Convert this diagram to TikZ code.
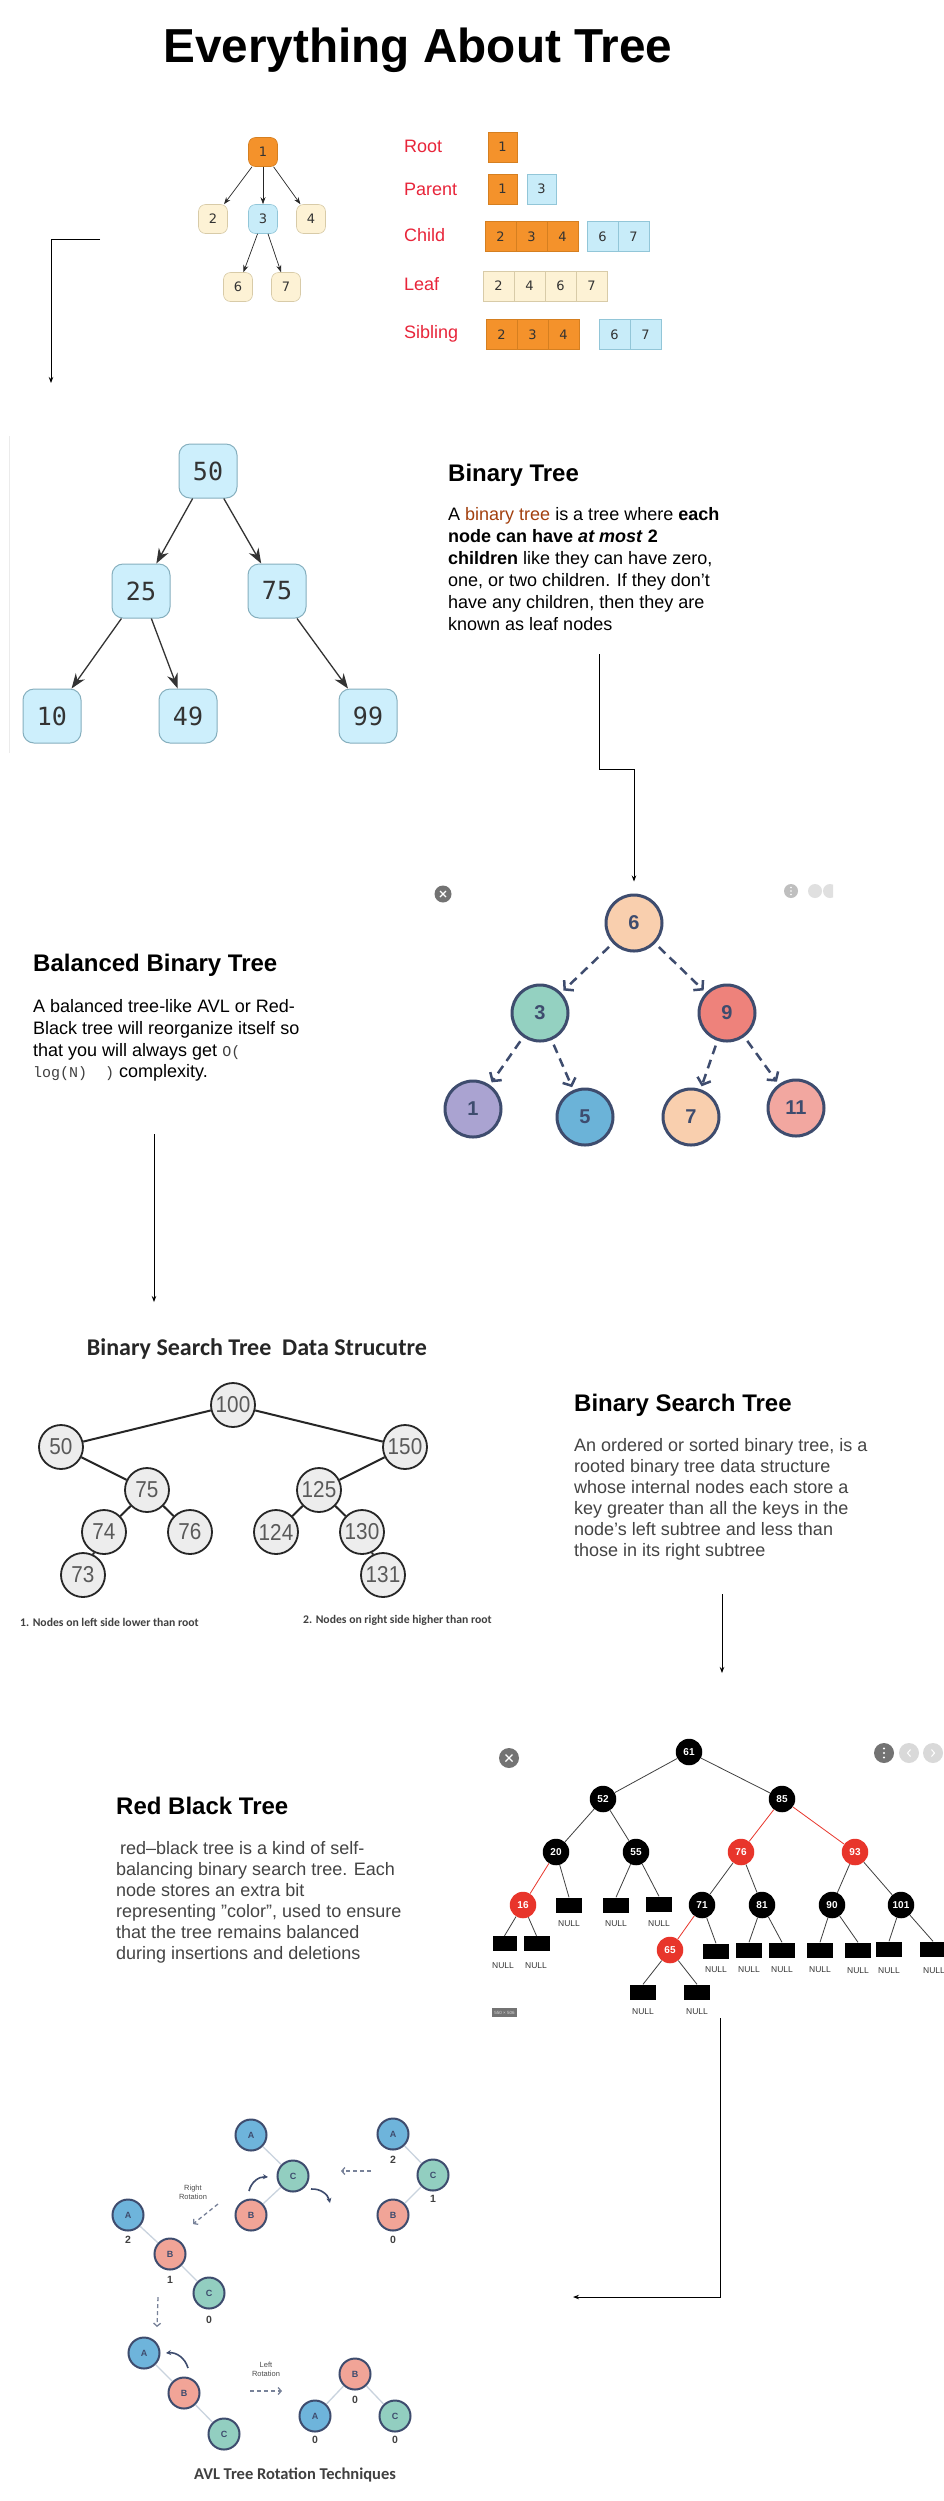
\documentclass[tikz,border=0pt]{standalone}
\usepackage{fontspec}
\setmainfont{Liberation Sans}
\newfontfamily\monofont{DejaVu Sans Mono}
\newfontfamily\dvsans{DejaVu Sans}
\newfontfamily\carlito{Carlito}
\newfontfamily\narrowsans[FakeStretch=0.9]{Liberation Sans}
\newfontfamily\codefont{Liberation Mono}
\usetikzlibrary{arrows.meta,shapes.geometric}
\newcommand{\setfs}[2]{\fontsize{#1}{#2}\selectfont}
\definecolor{orangeF}{HTML}{F4922B}
\definecolor{orangeD}{HTML}{D57F20}
\definecolor{lblueF}{HTML}{C8ECF9}
\definecolor{lblueD}{HTML}{92C6D8}
\definecolor{creamF}{HTML}{FDF2D5}
\definecolor{creamD}{HTML}{D8CBA8}
\definecolor{redL}{HTML}{E8253A}
\definecolor{brownL}{HTML}{A3410F}
\definecolor{btF}{HTML}{CDEFFC}
\definecolor{btD}{HTML}{86AFBE}
\definecolor{navy}{HTML}{3E4C6E}
\definecolor{peachF}{HTML}{F9CFAE}
\definecolor{tealF}{HTML}{94D1C1}
\definecolor{salmonF}{HTML}{EE827B}
\definecolor{lavF}{HTML}{AAA3D1}
\definecolor{blueF}{HTML}{6BB3D8}
\definecolor{pinkF}{HTML}{F2A7A0}
\definecolor{bstF}{HTML}{EDEDED}
\definecolor{rbRed}{HTML}{E8352B}
\definecolor{avlA}{HTML}{6EB4DB}
\definecolor{avlB}{HTML}{F1A497}
\definecolor{avlC}{HTML}{92CEC0}
\definecolor{avEdge}{HTML}{C9D3DE}
\definecolor{txtGray}{HTML}{444444}
\begin{document}
\begin{tikzpicture}[x=1pt,y=-1pt,
  conn/.style={draw=black, line width=0.9pt, -{Stealth[length=6pt,width=4.5pt]}},
  tn/.style={rounded corners=7pt, minimum width=29pt, minimum height=29pt, inner sep=0pt, line width=0.6pt, font=\dvsans\setfs{13}{15}, text=black!80},
  tna/.style={draw=black!85, line width=0.7pt, -{Stealth[length=7pt,width=5pt]}},
  cell/.style={minimum width=31pt, minimum height=30pt, inner sep=0pt, line width=0.6pt, font=\dvsans\setfs{13}{15}, text=black!80},
  ocell/.style={cell, fill=orangeF, draw=orangeD},
  bcell/.style={cell, fill=lblueF, draw=lblueD},
  ccell/.style={cell, fill=creamF, draw=creamD},
  lbl/.style={text=redL, font=\setfs{18}{20}, anchor=base west, inner sep=0pt},
  head/.style={font=\bfseries\setfs{24}{28}, anchor=base west, inner sep=0pt},
  body/.style={anchor=north west, align=left, inner sep=0pt, font=\setfs{18}{21.9}},
  bt/.style={rounded corners=11pt, minimum width=58pt, minimum height=54pt, fill=btF, draw=btD, line width=1pt, font=\monofont\setfs{25}{28}, text=black!80, inner sep=0pt},
  bta/.style={draw=black!80, line width=1.3pt, -{Stealth[length=15pt,width=11pt]}},
  bb/.style={circle, minimum size=56pt, inner sep=0pt, draw=navy, line width=3pt, font=\bfseries\setfs{20}{22}, text=navy},
  bba/.style={draw=navy, line width=2.5pt, dash pattern=on 9pt off 6pt, -{Straight Barb[length=6pt,width=14pt]}, shorten <=5pt, shorten >=3pt},
  bs/.style={circle, minimum size=44pt, inner sep=0pt, fill=bstF, draw=black!85, line width=1.8pt, font=\narrowsans\setfs{23}{25}, text=black!65},
  bse/.style={draw=black!85, line width=2pt},
  rb/.style={circle, minimum size=26.5pt, inner sep=0pt, fill=black, font=\bfseries\setfs{10}{12}, text=white},
  rbr/.style={rb, fill=rbRed},
  nul/.style={fill=black, minimum width=26pt, minimum height=15pt, inner sep=0pt},
  nl/.style={font=\setfs{8.5}{9}, text=black!80, inner sep=0pt},
  rbe/.style={draw=black!75, line width=0.8pt},
  rbre/.style={draw=rbRed, line width=0.8pt},
  av/.style={circle, minimum size=31pt, inner sep=0pt, draw=navy, line width=2pt, font=\bfseries\setfs{9}{10}, text=navy},
  avA/.style={av, fill=avlA}, avB/.style={av, fill=avlB}, avC/.style={av, fill=avlC},
  ave/.style={draw=avEdge, line width=1.3pt},
  avn/.style={font=\bfseries\setfs{10.5}{11}, text=black!75, inner sep=0pt},
  avd/.style={draw=navy!70, line width=1.3pt, dash pattern=on 4pt off 3pt, -{Straight Barb[length=3pt,width=7pt]}},
  avc/.style={draw=navy, line width=1.6pt, -{Stealth[length=5pt,width=5pt]}},
  avt/.style={font=\setfs{7.5}{9}, text=black!70, align=center, inner sep=0pt}
]
\useasboundingbox (0,0) rectangle (944,2501);
\fill[white] (0,0) rectangle (944,2501);
\clip (0,0) rectangle (944,2501);

% ---------- Title ----------
\node[font=\bfseries\setfs{47.7}{55}, anchor=base] (title) at (418,62) {Everything About Tree};

% ---------- Section 1: general tree ----------
\node[tn, fill=orangeF, draw=orangeD] (t1) at (263,152) {1};
\node[tn, fill=creamF, draw=creamD] (t2) at (213,219) {2};
\node[tn, fill=lblueF, draw=lblueD] (t3) at (263,219) {3};
\node[tn, fill=creamF, draw=creamD] (t4) at (311,219) {4};
\node[tn, fill=creamF, draw=creamD] (t6) at (238,287) {6};
\node[tn, fill=creamF, draw=creamD] (t7) at (286,287) {7};
\draw[tna] (t1) -- (t2);
\draw[tna] (t1) -- (t3);
\draw[tna] (t1) -- (t4);
\draw[tna] (t3) -- (t6);
\draw[tna] (t3) -- (t7);

\node[lbl] (lroot) at (404,152) {Root};
\node[lbl] (lparent) at (404,195) {Parent};
\node[lbl] (lchild) at (404,241) {Child};
\node[lbl] (lleaf) at (404,290) {Leaf};
\node[lbl] (lsib) at (404,338) {Sibling};

\node[ocell, minimum width=29pt] (r1) at (502.5,147) {1};
\node[ocell, minimum width=29pt] (p1) at (502.5,189) {1};
\node[bcell, minimum width=29pt] (p3) at (541.5,189) {3};
\node[ocell] (c2) at (500.5,236.5) {2};
\node[ocell] (c3) at (531.5,236.5) {3};
\node[ocell] (c4) at (562.5,236.5) {4};
\node[bcell] (c6) at (602.5,236.5) {6};
\node[bcell] (c7) at (633.5,236.5) {7};
\node[ccell] (f2) at (498.5,286) {2};
\node[ccell] (f4) at (529.5,286) {4};
\node[ccell] (f6) at (560.5,286) {6};
\node[ccell] (f7) at (591.5,286) {7};
\node[ocell] (s2) at (501.5,334.5) {2};
\node[ocell] (s3) at (532.5,334.5) {3};
\node[ocell] (s4) at (563.5,334.5) {4};
\node[bcell] (s6) at (614.5,334.5) {6};
\node[bcell] (s7) at (645.5,334.5) {7};

\coordinate (k1a) at (100,239);
\coordinate (k1b) at (51,239);
\coordinate (k1c) at (51,383);
\draw[conn] (k1a) -- (k1b) -- (k1c);

% ---------- Section 2: binary tree ----------
\draw[black!8, line width=1pt] (9,436) -- (9,753);
\node[bt] (b50) at (208,471) {50};
\node[bt] (b25) at (141,591) {25};
\node[bt] (b75) at (277,591) {75};
\node[bt] (b10) at (52,716) {10};
\node[bt] (b49) at (188,716) {49};
\node[bt] (b99) at (368,716) {99};
\draw[bta] (b50) -- (b25);
\draw[bta] (b50) -- (b75);
\draw[bta] (b25) -- (b10);
\draw[bta] (b25) -- (b49);
\draw[bta] (b75) -- (b99);

\node[head] (bthead) at (448,481.7) {Binary Tree};
\node[body] (btbody) at (448,507.5) {A {\color{brownL}binary tree} is a tree where \textbf{each}\\\textbf{node can have \textit{at most} 2}\\\textbf{children} like they can have zero,\\one, or two children. If they don't\\have any children, then they are\\known as leaf nodes};

% ---------- Section 3: balanced tree ----------
\node[bb, fill=peachF] (n6) at (634,923) {6};
\node[bb, fill=tealF] (n3) at (540,1013) {3};
\node[bb, fill=salmonF] (n9) at (727,1013) {9};
\node[bb, fill=lavF] (n1) at (473,1109) {1};
\node[bb, fill=blueF] (n5) at (585,1117) {5};
\node[bb, fill=peachF] (n7) at (691,1117) {7};
\node[bb, fill=pinkF] (n11) at (796,1108) {11};
\draw[bba] (n6) -- (n3);
\draw[bba] (n6) -- (n9);
\draw[bba] (n3) -- (n1);
\draw[bba] (n3) -- (n5);
\draw[bba] (n9) -- (n7);
\draw[bba] (n9) -- (n11);

\coordinate (k2a) at (599,654);
\coordinate (k2b) at (599,769);
\draw[conn, shorten >=12pt] (k2a) -- (k2b) -| (n6.north);

% image icons
\fill[black!55] (443,894) circle (8.5);
\draw[white, line width=1.2pt] (440,891) -- (446,897) (446,891) -- (440,897);
\fill[black!25] (791,891) circle (7);
\fill[white] (791,887.5) circle (0.9) (791,891) circle (0.9) (791,894.5) circle (0.9);
\fill[black!12] (815,891) circle (7);
\begin{scope}
  \clip (820,880) rectangle (833,902);
  \fill[black!12] (830,891) circle (7);
\end{scope}

\node[head] (bbhead) at (33,971.7) {Balanced Binary Tree};
\node[body] (bbbody) at (33,999) {A balanced tree-like AVL or Red-\\Black tree will reorganize itself so\\that you will always get {\codefont\setfs{15}{21.9}\color{black!75}O(}\\{\codefont\setfs{15}{21.9}\color{black!75}log(N)\ \ )} complexity.};

\coordinate (k3a) at (154,1134);
\coordinate (k3b) at (154,1302);
\draw[conn] (k3a) -- (k3b);

% ---------- Section 4: BST ----------
\node[font=\carlito\bfseries\setfs{24}{27}, text=black!85] (bsttitle) at (257,1349) {Binary Search Tree\ \ Data Strucutre};
\node[bs] (s100) at (233,1405) {100};
\node[bs] (s50) at (61,1447) {50};
\node[bs] (s150) at (405,1447) {150};
\node[bs] (s75) at (147,1490) {75};
\node[bs] (s125) at (319,1490) {125};
\node[bs] (s74) at (104,1532) {74};
\node[bs] (s76) at (190,1532) {76};
\node[bs] (s124) at (276,1532) {124};
\node[bs] (s130) at (362,1532) {130};
\node[bs] (s73) at (83,1575) {73};
\node[bs] (s131) at (383,1575) {131};
\draw[bse] (s100) -- (s50);
\draw[bse] (s100) -- (s150);
\draw[bse] (s50) -- (s75);
\draw[bse] (s150) -- (s125);
\draw[bse] (s75) -- (s74);
\draw[bse] (s75) -- (s76);
\draw[bse] (s125) -- (s124);
\draw[bse] (s125) -- (s130);
\draw[bse] (s74) -- (s73);
\draw[bse] (s130) -- (s131);
\node[font=\carlito\bfseries\setfs{11.7}{13}, text=black!75, anchor=west, inner sep=0pt] (cap1) at (20,1622) {1. Nodes on left side lower than root};
\node[font=\carlito\bfseries\setfs{11.7}{13}, text=black!75, anchor=west, inner sep=0pt] (cap2) at (303,1620) {2. Nodes on right side higher than root};

\node[head] (bsthead) at (574,1411.7) {Binary Search Tree};
\node[body, text=txtGray, font=\setfs{18}{21}] (bstbody) at (574,1438) {An ordered or sorted binary tree, is a\\rooted binary tree data structure\\whose internal nodes each store a\\key greater than all the keys in the\\node’s left subtree and less than\\those in its right subtree};

\coordinate (k4a) at (722,1594);
\coordinate (k4b) at (722,1673);
\draw[conn] (k4a) -- (k4b);

% ---------- Section 5: Red-black tree ----------
\fill[black!55] (509,1758) circle (10);
\draw[white, line width=1.3pt] (505.5,1754.5) -- (512.5,1761.5) (512.5,1754.5) -- (505.5,1761.5);
\fill[black!55] (884,1753) circle (10);
\fill[white] (884,1748.5) circle (1.1) (884,1753) circle (1.1) (884,1757.5) circle (1.1);
\fill[black!15] (909,1753) circle (10);
\draw[white, line width=1pt] (910.5,1749.5) -- (907.5,1753) -- (910.5,1756.5);
\fill[black!15] (933,1753) circle (10);
\draw[white, line width=1pt] (931.5,1749.5) -- (934.5,1753) -- (931.5,1756.5);

\node[rb] (r61) at (689,1752) {61};
\node[rb] (r52) at (603,1799) {52};
\node[rb] (r85) at (782,1799) {85};
\node[rb] (r20) at (556,1852) {20};
\node[rb] (r55) at (636,1852) {55};
\node[rbr] (r76) at (741,1852) {76};
\node[rbr] (r93) at (855,1852) {93};
\node[rbr] (r16) at (523,1905) {16};
\node[rb] (r71) at (702,1905) {71};
\node[rb] (r81) at (762,1905) {81};
\node[rb] (r90) at (832,1905) {90};
\node[rb] (r101) at (901,1905) {101};
\node[rbr] (r65) at (670,1950) {65};

\node[nul, minimum width=24pt] (n16a) at (504.5,1943.5) {};
\node[nul] (n16b) at (536.5,1943.5) {};
\node[nul] (n20) at (569,1905) {};
\node[nul] (n55a) at (616,1905) {};
\node[nul] (n55b) at (659,1904) {};
\node[nul] (n71) at (716,1951) {};
\node[nul] (n81a) at (749,1950) {};
\node[nul] (n81b) at (782,1950) {};
\node[nul] (n90a) at (820,1950) {};
\node[nul] (n90b) at (858,1950) {};
\node[nul] (n101a) at (889,1949) {};
\node[nul] (n101b) at (933,1949) {};
\node[nul] (n65a) at (643,1992) {};
\node[nul] (n65b) at (697,1992) {};

\node[nl] (l16a) at (503,1966) {NULL};
\node[nl] (l16b) at (536,1966) {NULL};
\node[nl] (l20) at (569,1924) {NULL};
\node[nl] (l55a) at (616,1924) {NULL};
\node[nl] (l55b) at (659,1924) {NULL};
\node[nl] (l71) at (716,1970) {NULL};
\node[nl] (l81a) at (749,1970) {NULL};
\node[nl] (l81b) at (782,1970) {NULL};
\node[nl] (l90a) at (820,1970) {NULL};
\node[nl] (l90b) at (858,1971) {NULL};
\node[nl] (l101a) at (889,1971) {NULL};
\node[nl] (l101b) at (934,1971) {NULL};
\node[nl] (l65a) at (643,2012) {NULL};
\node[nl] (l65b) at (697,2012) {NULL};

\draw[rbe] (r61) -- (r52);
\draw[rbe] (r61) -- (r85);
\draw[rbe] (r52) -- (r20);
\draw[rbe] (r52) -- (r55);
\draw[rbre] (r85) -- (r76);
\draw[rbre] (r85) -- (r93);
\draw[rbre] (r20) -- (r16);
\draw[rbe] (r20) -- (n20.north);
\draw[rbe] (r55) -- (n55a.north);
\draw[rbe] (r55) -- (n55b.north);
\draw[rbe] (r76) -- (r71);
\draw[rbe] (r76) -- (r81);
\draw[rbe] (r93) -- (r90);
\draw[rbe] (r93) -- (r101);
\draw[rbe] (r16) -- (n16a.north);
\draw[rbe] (r16) -- (n16b.north);
\draw[rbre] (r71) -- (r65);
\draw[rbe] (r71) -- (n71.north);
\draw[rbe] (r81) -- (n81a.north);
\draw[rbe] (r81) -- (n81b.north);
\draw[rbe] (r90) -- (n90a.north);
\draw[rbe] (r90) -- (n90b.north);
\draw[rbe] (r101) -- (n101a.north);
\draw[rbe] (r101) -- (n101b.north);
\draw[rbe] (r65) -- (n65a.north);
\draw[rbe] (r65) -- (n65b.north);

\node[fill=black!55, text=white!85!black, font=\setfs{4.5}{5}, inner sep=1pt, minimum width=25pt, minimum height=9pt] (imgtag) at (504.5,2012.5) {550 × 506};

\node[head] (rbhead) at (116,1814) {Red Black Tree};
\node[body, text=txtGray, font=\setfs{18}{21}] (rbbody) at (116,1841) {\hspace{4pt}red–black tree is a kind of self-\\balancing binary search tree. Each\\node stores an extra bit\\representing "color", used to ensure\\that the tree remains balanced\\during insertions and deletions};

\coordinate (k5a) at (720,2018);
\coordinate (k5b) at (720,2297);
\coordinate (k5c) at (573,2297);
\draw[conn] (k5a) -- (k5b) -- (k5c);

% ---------- Section 6: AVL rotations ----------
% group 1 (top middle)
\node[avA] (a1) at (251,2135) {A};
\node[avC] (c1) at (293,2176) {C};
\node[avB] (b1) at (251,2215) {B};
\draw[ave] (a1) -- (c1);
\draw[ave] (c1) -- (b1);
\coordinate (cv1s) at (249,2191);
\coordinate (cv1e) at (268,2177);
\draw[avc] (cv1s) to[bend left=40] (cv1e);
\coordinate (cv2s) at (311,2189);
\coordinate (cv2e) at (330,2203);
\draw[avc] (cv2s) to[bend left=40] (cv2e);

% group 2 (top right)
\node[avA] (a2) at (393,2134) {A};
\node[avC] (c2n) at (433,2175) {C};
\node[avB] (b2) at (393,2215) {B};
\draw[ave] (a2) -- (c2n);
\draw[ave] (c2n) -- (b2);
\node[avn] (a2l) at (393,2160) {2};
\node[avn] (c2l) at (433,2199) {1};
\node[avn] (b2l) at (393,2240) {0};
\coordinate (d1s) at (371,2171);
\coordinate (d1e) at (341,2171);
\draw[avd] (d1s) -- (d1e);

\node[avt] (rrot) at (193,2192) {Right\\Rotation};
\coordinate (d2s) at (218,2204);
\coordinate (d2e) at (193,2224);
\draw[avd] (d2s) -- (d2e);

% group 3 (left)
\node[avA] (a3) at (128,2215) {A};
\node[avB] (b3) at (170,2254) {B};
\node[avC] (c3n) at (209,2293) {C};
\draw[ave] (a3) -- (b3);
\draw[ave] (b3) -- (c3n);
\node[avn] (a3l) at (128,2240) {2};
\node[avn] (b3l) at (170,2280) {1};
\node[avn] (c3l) at (209,2320) {0};
\coordinate (d3s) at (158,2297);
\coordinate (d3e) at (157,2327);
\draw[avd] (d3s) -- (d3e);

% group 4 (bottom left)
\node[avA] (a4) at (144,2353) {A};
\node[avB] (b4) at (184,2393) {B};
\node[avC] (c4n) at (224,2434) {C};
\draw[ave] (a4) -- (b4);
\draw[ave] (b4) -- (c4n);
\coordinate (cv3s) at (188,2368);
\coordinate (cv3e) at (166,2353);
\draw[avc] (cv3s) to[bend right=40] (cv3e);

\node[avt] (lrot) at (266,2369) {Left\\Rotation};
\coordinate (d4s) at (250,2391);
\coordinate (d4e) at (282,2391);
\draw[avd] (d4s) -- (d4e);

% group 5 (bottom right)
\node[avB] (b5) at (355,2374) {B};
\node[avA] (a5) at (315,2416) {A};
\node[avC] (c5n) at (395,2416) {C};
\draw[ave] (b5) -- (a5);
\draw[ave] (b5) -- (c5n);
\node[avn] (b5l) at (355,2400) {0};
\node[avn] (a5l) at (315,2440) {0};
\node[avn] (c5l) at (395,2440) {0};

\node[font=\carlito\bfseries\setfs{16.5}{19}, text=black!75] (avlcap) at (295,2475) {AVL Tree Rotation Techniques};
\end{tikzpicture}
\end{document}
